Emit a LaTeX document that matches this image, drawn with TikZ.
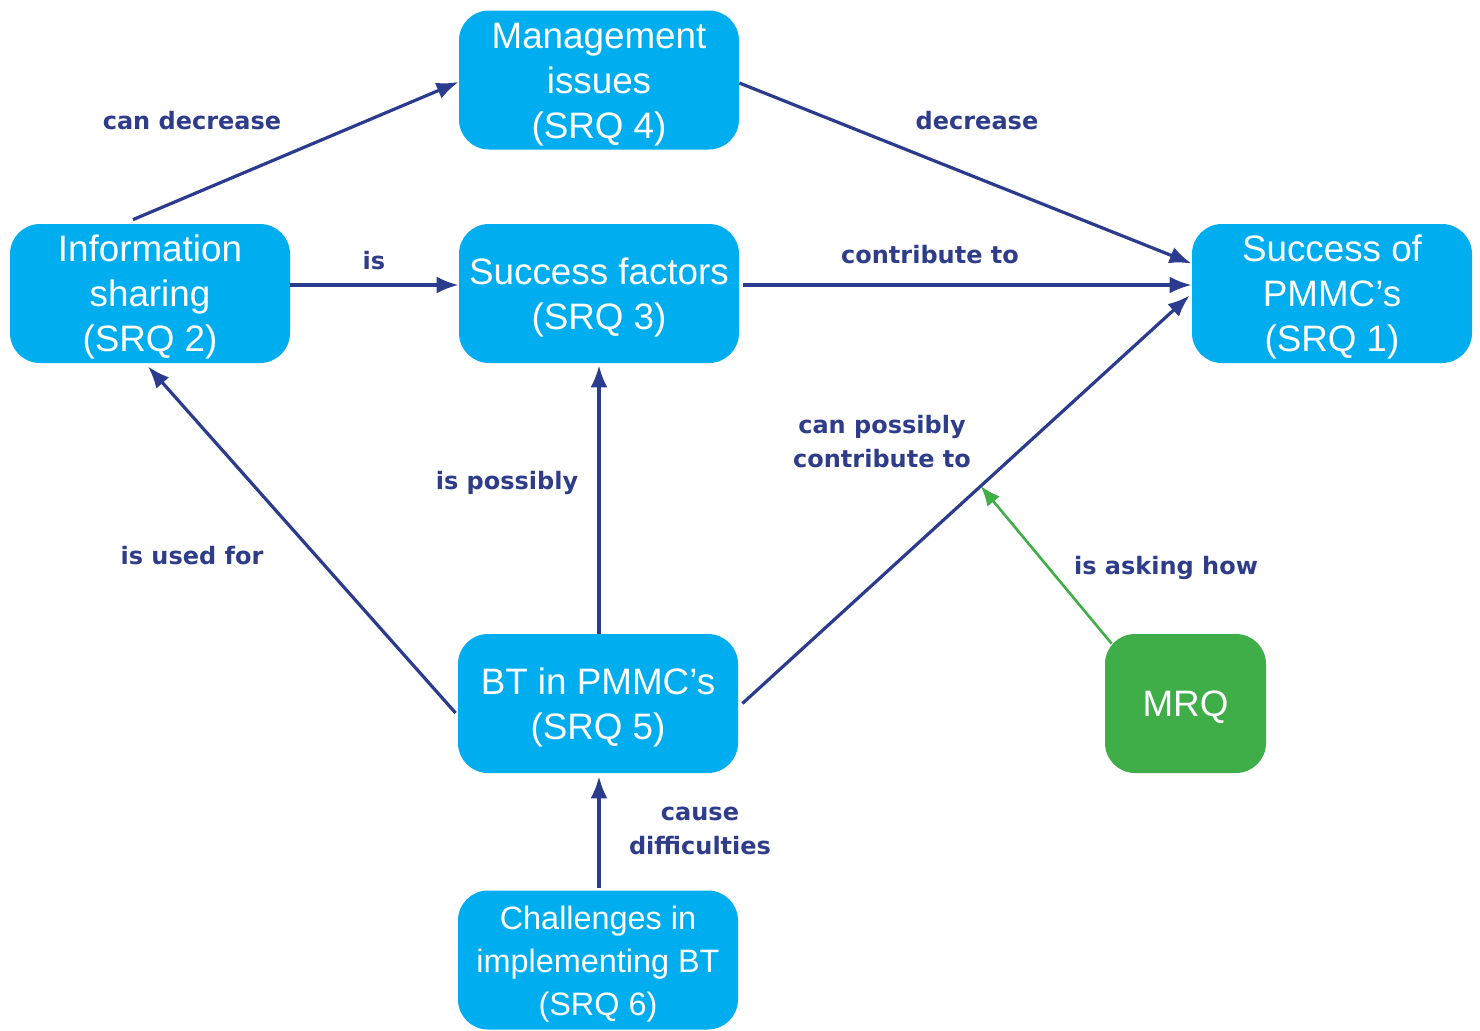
\documentclass[tikz,border=0pt]{standalone}
\usepackage{fontspec}
\setmainfont{Liberation Sans}
\newfontfamily\labelfont{DejaVu Sans}
\usetikzlibrary{arrows.meta,calc}

\definecolor{boxcyan}{HTML}{00AEEF}
\definecolor{boxgreen}{HTML}{3FAE49}
\definecolor{lineblue}{HTML}{2B3B8E}
\definecolor{labelblue}{HTML}{2E3C8A}

% centred block of lines, its box moved up so the text sits a little lower
\newcommand\boxlines[1]{\raisebox{0pt}[\dimexpr\height+2pt\relax][\dimexpr\depth-2pt\relax]{\begin{tabular}{@{}c@{}}#1\end{tabular}}}

\begin{document}
\begin{tikzpicture}[x=0.5pt,y=-0.5pt,
  box/.style={rectangle, rounded corners=15pt, fill=boxcyan, text=white,
    inner sep=0pt, minimum width=140pt, minimum height=69.5pt,
    font=\fontsize{18.4}{22.5}\selectfont},
  mrqbox/.style={box, fill=boxgreen, minimum width=80.5pt},
  rel/.style={text=labelblue, align=center, inner sep=0pt,
    font=\labelfont\bfseries\fontsize{12}{17}\selectfont},
  conn/.style={draw=lineblue, line width=1.6pt, -{Latex[length=11pt,width=8.5pt]}},
  ask/.style={draw=boxgreen, line width=1.3pt, -{Latex[length=10pt,width=8pt]}}]

  \useasboundingbox (0,0) rectangle (1480,1030);

  % research question boxes
  \node[box] (srq4) at (599,80)    {\boxlines{Management\\issues\\(SRQ 4)}};
  \node[box] (srq2) at (150,293.5) {\boxlines{Information\\sharing\\(SRQ 2)}};
  \node[box] (srq3) at (599,293.5) {\boxlines{Success factors\\(SRQ 3)}};
  \node[box] (srq1) at (1332,293.5) {\boxlines{Success of\\PMMC’s\\(SRQ 1)}};
  \node[box] (srq5) at (598,703.5) {\boxlines{BT in PMMC’s\\(SRQ 5)}};
  \node[box, font=\fontsize{16.2}{21.5}\selectfont] (srq6) at (598,960)
    {\boxlines{Challenges in\\implementing BT\\(SRQ 6)}};
  \node[mrqbox] (mrq) at (1185.5,703.5) {\boxlines{MRQ}};

  % relations
  \draw[conn] ([xshift=-8.5pt,yshift=2pt]srq2.north) -- ([yshift=-1pt]srq4.west);
  \draw[conn] ([yshift=-1.5pt]srq4.east) -- ([yshift=15pt]srq1.west);
  \draw[conn] ([yshift=4.25pt]srq2.east) -- ([yshift=4.25pt]srq3.west);
  \draw[conn] ([xshift=2pt,yshift=4.25pt]srq3.east) -- ([yshift=4.25pt]srq1.west);
  \draw[conn] (srq5.north -| srq3.south) -- ([yshift=-1pt]srq3.south);
  \draw[conn] ([xshift=-1pt,yshift=-4.75pt]srq5.west) -- ([xshift=-1pt,yshift=-1.5pt]srq2.south);
  \draw[conn] ([xshift=2pt]srq5.east) -- ([xshift=-1pt,yshift=-1pt]srq1.west);
  \draw[conn] ([xshift=0.5pt,yshift=1pt]srq6.north) -- ([xshift=0.5pt,yshift=-1.5pt]srq5.south);

  % the main question points at the SRQ 5 -> SRQ 1 relation
  \coordinate (hit) at ($([xshift=2pt]srq5.east)!0.533!([xshift=-1pt,yshift=-1pt]srq1.west)$);
  \draw[ask] ([xshift=3.5pt,yshift=-5pt]mrq.north west) -- (hit);

  % relation labels
  \node[rel] (l1) at (192,121) {can decrease};
  \node[rel] (l2) at (977,121) {decrease};
  \node[rel] (l3) at (374,261) {is};
  \node[rel] (l4) at (930,255) {contribute to};
  \node[rel] (l5) at (882,442) {can possibly\\contribute to};
  \node[rel] (l6) at (507,483) {is possibly};
  \node[rel] (l7) at (192,556) {is used for};
  \node[rel] (l8) at (1166,568) {is asking how};
  \node[rel] (l9) at (700,831) {cause\\difficulties};
\end{tikzpicture}
\end{document}
